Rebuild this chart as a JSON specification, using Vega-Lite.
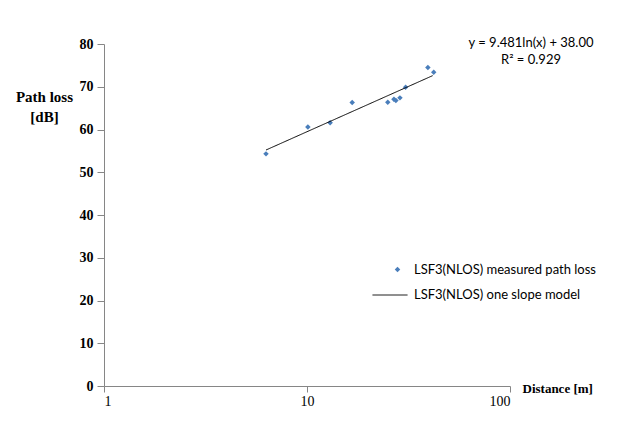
{
  "$schema": "https://vega.github.io/schema/vega-lite/v6.json",
  "width": 406,
  "height": 342,
  "autosize": "none",
  "padding": {"left": 104, "top": 44, "right": 107, "bottom": 55},
  "background": "white",
  "config": {"view": {"stroke": null}},
  "title": {
    "text": ["y = 9.481ln(x) + 38.00", "R² = 0.929"],
    "anchor": "end",
    "align": "center",
    "dx": 21,
    "offset": -30,
    "font": "Lato",
    "fontSize": 13,
    "fontWeight": "normal",
    "color": "#000000",
    "lineHeight": 17,
    "frame": "group"
  },
  "layer": [
    {
      "data": {
        "values": [
          {"distance": 6.28, "pathloss": 54.3, "series": "LSF3(NLOS) measured path loss"},
          {"distance": 10.1, "pathloss": 60.6, "series": "LSF3(NLOS) measured path loss"},
          {"distance": 13.0, "pathloss": 61.6, "series": "LSF3(NLOS) measured path loss"},
          {"distance": 16.7, "pathloss": 66.3, "series": "LSF3(NLOS) measured path loss"},
          {"distance": 25.0, "pathloss": 66.4, "series": "LSF3(NLOS) measured path loss"},
          {"distance": 26.8, "pathloss": 67.1, "series": "LSF3(NLOS) measured path loss"},
          {"distance": 27.4, "pathloss": 66.8, "series": "LSF3(NLOS) measured path loss"},
          {"distance": 28.7, "pathloss": 67.4, "series": "LSF3(NLOS) measured path loss"},
          {"distance": 30.6, "pathloss": 69.9, "series": "LSF3(NLOS) measured path loss"},
          {"distance": 39.4, "pathloss": 74.5, "series": "LSF3(NLOS) measured path loss"},
          {"distance": 42.1, "pathloss": 73.4, "series": "LSF3(NLOS) measured path loss"}
        ]
      },
      "mark": {"type": "point", "shape": "diamond", "filled": true, "size": 30, "color": "#4a7ebb", "opacity": 1},
      "encoding": {
        "x": {
          "field": "distance",
          "type": "quantitative",
          "scale": {"type": "log", "domain": [1, 100]},
          "axis": {
            "values": [1, 10, 100],
            "format": "d",
            "title": "Distance [m]",
            "titleX": 418,
            "titleY": 2,
            "titleAlign": "left",
            "titleBaseline": "middle",
            "titleAngle": 0,
            "titleFont": "Liberation Serif",
            "titleFontSize": 13,
            "titleFontWeight": "bold",
            "titleColor": "#000000",
            "labelFont": "Liberation Serif",
            "labelFontSize": 14,
            "labelFontWeight": "normal",
            "labelColor": "#000000",
            "labelPadding": 2,
            "tickSize": 6,
            "tickColor": "#868686",
            "domainColor": "#868686",
            "grid": false
          }
        },
        "y": {
          "field": "pathloss",
          "type": "quantitative",
          "scale": {"domain": [0, 80], "nice": false},
          "axis": {
            "values": [0, 10, 20, 30, 40, 50, 60, 70, 80],
            "title": ["Path loss", "[dB]"],
            "titleAngle": 0,
            "titleX": -60,
            "titleY": 45,
            "titleAlign": "center",
            "titleBaseline": "top",
            "titleFont": "Liberation Serif",
            "titleFontSize": 15,
            "titleFontWeight": "bold",
            "titleColor": "#000000",
            "titleLineHeight": 20,
            "labelFont": "Liberation Serif",
            "labelFontSize": 14,
            "labelFontWeight": "bold",
            "labelColor": "#000000",
            "labelPadding": 4,
            "tickSize": 7,
            "tickColor": "#868686",
            "domainColor": "#868686",
            "grid": false
          }
        },
        "shape": {
          "field": "series",
          "type": "nominal",
          "scale": {"range": ["diamond"]},
          "legend": {
            "title": null,
            "orient": "none",
            "legendX": 287,
            "legendY": 219,
            "padding": 0,
            "labelFont": "Lato",
            "labelFontSize": 13,
            "labelColor": "#000000",
            "labelLimit": 300,
            "labelOffset": 10,
            "symbolSize": 30,
            "symbolFillColor": "#4a7ebb",
            "symbolStrokeWidth": 0
          }
        }
      }
    },
    {
      "data": {
        "values": [
          {"distance": 6.28, "pathloss": 55.2, "series": "LSF3(NLOS) one slope model"},
          {"distance": 41.6, "pathloss": 72.6, "series": "LSF3(NLOS) one slope model"}
        ]
      },
      "mark": {"type": "line", "color": "#000000", "strokeWidth": 1},
      "encoding": {
        "x": {"field": "distance", "type": "quantitative"},
        "y": {"field": "pathloss", "type": "quantitative"},
        "strokeDash": {
          "field": "series",
          "type": "nominal",
          "scale": {"range": [[1, 0]]},
          "legend": {
            "title": null,
            "orient": "none",
            "legendX": 268,
            "legendY": 233,
            "padding": 0,
            "labelFont": "Lato",
            "labelFontSize": 13,
            "labelColor": "#000000",
            "labelLimit": 300,
            "labelOffset": 6,
            "symbolType": "stroke",
            "symbolSize": 1225,
            "symbolStrokeColor": "#000000",
            "symbolStrokeWidth": 1
          }
        }
      }
    }
  ]
}
